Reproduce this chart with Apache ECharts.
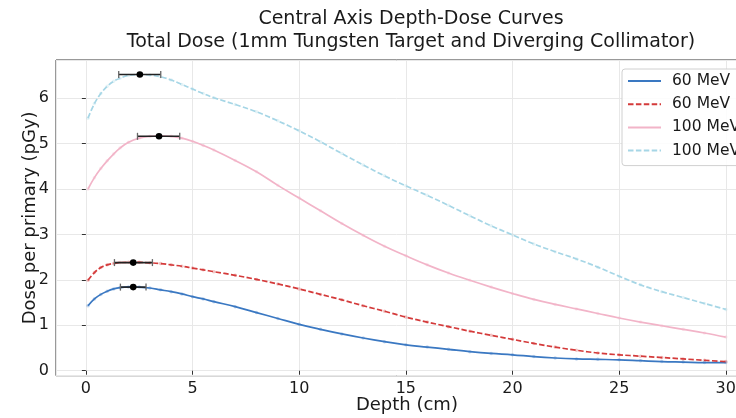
<!DOCTYPE html>
<html><head><meta charset="utf-8">
<script src="https://cdn.jsdelivr.net/npm/echarts@6/dist/echarts.min.js"></script>
<style>html,body{margin:0;padding:0;background:#fff}#c{width:736px;height:418px}</style>
</head><body><div id="c"></div>
<script>
// Depth (cm)
const depth = [0.1,0.4,0.7,1.0,1.3,1.6,2.0,2.5,3.0,3.5,4.0,4.5,5.0,5.5,6,7,8,9,10,11,12,13,14,15,16,17,18,19,20,21,22,23,24,25,26,27,28,29,30];
// Dose per primary (pGy)
const dose60Solid  = [1.43,1.58,1.68,1.75,1.80,1.83,1.845,1.84,1.82,1.78,1.74,1.69,1.63,1.58,1.52,1.41,1.28,1.15,1.02,0.91,0.81,0.72,0.64,0.57,0.52,0.47,0.42,0.38,0.35,0.31,0.28,0.26,0.25,0.24,0.22,0.20,0.19,0.18,0.18];
const dose60Dashed = [1.99,2.16,2.27,2.33,2.36,2.38,2.385,2.385,2.375,2.36,2.33,2.30,2.26,2.22,2.18,2.10,2.01,1.91,1.80,1.68,1.56,1.43,1.31,1.18,1.07,0.97,0.87,0.78,0.69,0.60,0.52,0.45,0.39,0.35,0.32,0.29,0.26,0.23,0.20];
const dose100Solid = [4.00,4.25,4.45,4.62,4.77,4.90,5.03,5.12,5.16,5.17,5.16,5.12,5.05,4.96,4.86,4.63,4.38,4.08,3.80,3.52,3.24,2.98,2.74,2.53,2.33,2.15,1.99,1.84,1.70,1.57,1.46,1.36,1.26,1.16,1.07,0.99,0.91,0.83,0.74];
const dose100Dashed= [5.56,5.88,6.10,6.26,6.37,6.44,6.50,6.52,6.51,6.47,6.40,6.30,6.20,6.10,6.01,5.86,5.70,5.50,5.28,5.04,4.78,4.53,4.29,4.07,3.86,3.64,3.41,3.19,2.99,2.79,2.62,2.46,2.28,2.08,1.89,1.74,1.61,1.48,1.35];
// Legend labels
const seriesNames = ['60 MeV (A)','60 MeV (B)','100 MeV (A)','100 MeV (B)'];
// Peak markers with horizontal error bars
const peakX    = [2.22, 2.22, 3.43, 2.53];
const peakY    = [1.84, 2.38, 5.16, 6.52];
const peakLow  = [1.62, 1.34, 2.42, 1.54];
const peakHigh = [2.82, 3.12, 4.40, 3.51];
// Axis labels and titles
const titleLines = ['Central Axis Depth-Dose Curves','Total Dose (1mm Tungsten Target and Diverging Collimator)'];
const xLabel = 'Depth (cm)';
const yLabel = 'Dose per primary (pGy)';

const FONT = 'DejaVu Sans';
const colors = ['#3a78c2','#d43a3a','#f2b4c8','#a6d6e6'];
const dashes = ['solid',[5.5,2.4],'solid',[5.5,2.4]];
const values = [dose60Solid, dose60Dashed, dose100Solid, dose100Dashed];

const pts = v => depth.map((d,i)=>[d, v[i]]);

const series = [];
values.forEach((v,i)=>{
  series.push({
    name: seriesNames[i]+' data', type:'scatter', data: pts(v), symbol:'circle', symbolSize:3.5,
    itemStyle:{color: colors[i], opacity:0.3}, silent:true, z:2
  });
});
values.forEach((v,i)=>{
  series.push({
    name: seriesNames[i], type:'line', data: pts(v), symbol:'none', smooth:0.4,
    lineStyle:{color: colors[i], width:1.7, type: dashes[i]}, itemStyle:{color: colors[i]}, z:3
  });
});
series.push({
  type:'custom', name:'peaks', z:5, silent:true,
  data: peakX.map((x,i)=>[x, peakY[i], peakLow[i], peakHigh[i]]),
  encode:{x:[0,2,3], y:1},
  renderItem(params, api){
    const xc=api.value(0), y=api.value(1), lo=api.value(2), hi=api.value(3);
    const a=api.coord([lo,y]), b=api.coord([hi,y]), c=api.coord([xc,y]);
    return {type:'group', children:[
      {type:'line', shape:{x1:a[0],y1:a[1],x2:b[0],y2:b[1]}, style:{stroke:'#222',lineWidth:1.6}},
      {type:'line', shape:{x1:a[0],y1:a[1]-3.5,x2:a[0],y2:a[1]+3.5}, style:{stroke:'#666',lineWidth:1.3}},
      {type:'line', shape:{x1:b[0],y1:b[1]-3.5,x2:b[0],y2:b[1]+3.5}, style:{stroke:'#666',lineWidth:1.3}},
      {type:'circle', shape:{cx:c[0],cy:c[1],r:3.3}, style:{fill:'#000'}}
    ]};
  }
});

const chart = echarts.init(document.getElementById('c'), null, {renderer:'canvas'});
chart.setOption({
  animation:false,
  backgroundColor:'#fff',
  title:{
    text: titleLines.join('\n'), left:406, top:3, textAlign:'center',
    textStyle:{fontFamily:FONT, fontSize:19, fontWeight:'normal', color:'#1a1a1a', lineHeight:23}
  },
  legend:{
    data: seriesNames, orient:'vertical', left:622, top:69,
    itemWidth:33, itemHeight:14, itemGap:7.2,
    padding:[4,8,7,5],
    itemStyle:{opacity:0},
    backgroundColor:'rgba(255,255,255,0.85)', borderColor:'#d0d0d0', borderWidth:1, borderRadius:3,
    textStyle:{fontFamily:FONT, fontSize:15.5, color:'#1a1a1a', padding:[0,0,0,6]}
  },
  grid:{left:56, top:60, right:-21.8, height:315.7, containLabel:false, outerBoundsMode:'none',
        show:true, borderColor:'#333', borderWidth:1, backgroundColor:'transparent'},
  xAxis:{
    type:'value', min:-1.4, max:31.5, minInterval:5, maxInterval:5,
    name:xLabel, nameLocation:'middle', nameGap:21, nameMoveOverlap:false,
    nameTextStyle:{fontFamily:FONT, fontSize:18, color:'#1a1a1a'},
    axisLine:{show:false}, axisTick:{show:true, length:4, lineStyle:{color:'#333'}},
    axisLabel:{fontFamily:FONT, fontSize:16, color:'#1a1a1a', margin:5, showMinLabel:false, showMaxLabel:false},
    splitLine:{show:true, lineStyle:{color:'#e8e8e8', width:1}}
  },
  yAxis:{
    type:'value', min:-0.11, max:6.84, minInterval:1, maxInterval:1,
    name:yLabel, nameLocation:'middle', nameGap:17, nameMoveOverlap:false,
    nameTextStyle:{fontFamily:FONT, fontSize:18, color:'#1a1a1a'},
    axisLine:{show:false}, axisTick:{show:true, length:4, lineStyle:{color:'#333'}},
    axisLabel:{fontFamily:FONT, fontSize:16, color:'#1a1a1a', margin:7, showMinLabel:false, showMaxLabel:false},
    splitLine:{show:true, lineStyle:{color:'#e8e8e8', width:1}}
  },
  series
});
</script></body></html>
